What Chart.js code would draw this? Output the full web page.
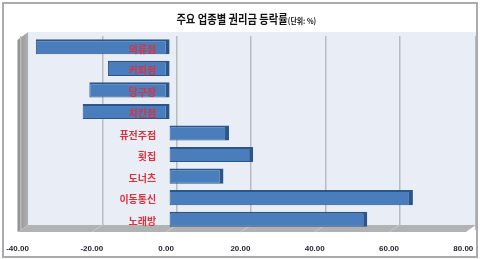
<!DOCTYPE html>
<html><head><meta charset="utf-8">
<script src="https://cdn.jsdelivr.net/npm/chart.js@4/dist/chart.umd.min.js"></script>
<style>
html,body{margin:0;padding:0;background:#fff;}
#wrap{position:relative;width:480px;height:259px;overflow:hidden;}
#frame{position:absolute;left:2px;top:2px;width:476px;height:256px;box-sizing:border-box;border:2px solid #ababab;pointer-events:none;}
#title{position:absolute;left:0;top:5px;width:480px;text-align:center;font-family:"Noto Sans CJK KR","Noto Sans",sans-serif;font-weight:bold;color:#111;white-space:nowrap;}
#title .in{display:inline-block;transform:scaleX(0.86);transform-origin:center;margin-left:12px;}
#title .m{font-size:12px;}
#title .s{font-size:8px;}
</style></head>
<body><div id="wrap"><canvas id="c" width="480" height="259"></canvas><div id="frame"></div>
<div id="title"><span class="in"><span class="m">주요 업종별 권리금 등락률</span><span class="s">(단위: %)</span></span></div></div>
<script>
const categories = ['의류점','커피점','당구장','치킨점','퓨전주점','횟집','도너츠','이동통신','노래방'];
const values = [-36.0, -16.6, -21.6, -23.4, 16.0, 22.5, 14.5, 65.5, 53.2];
const tickValues = [-40, -20, 0, 20, 40, 60, 80];

const decor = {
  id: 'decor',
  beforeDraw(chart) {
    const {ctx, chartArea} = chart;
    const x = chart.scales.x, x2 = chart.scales.x2;
    const bl = x2.getPixelForValue(-40), br = chartArea.right;
    const fl = x.getPixelForValue(-40) - 3.5;
    const top = chartArea.top - 4, fb = 225, ff = 232;
    ctx.save();
    ctx.fillStyle = '#e9eef6';
    ctx.fillRect(bl, top, br - bl, fb - top);
    const g = ctx.createLinearGradient(fl, 0, bl, 0);
    g.addColorStop(0, '#8f8f8f'); g.addColorStop(1, '#b0b0b0');
    ctx.fillStyle = g;
    ctx.beginPath();
    ctx.moveTo(fl, top + 8); ctx.lineTo(bl, top); ctx.lineTo(bl, fb); ctx.lineTo(fl, ff);
    ctx.closePath(); ctx.fill();
    ctx.restore();
  },
  beforeDatasetsDraw(chart) {
    const {ctx, chartArea} = chart;
    const x = chart.scales.x, x2 = chart.scales.x2;
    const bl = x2.getPixelForValue(-40), br = chartArea.right;
    const fl = x.getPixelForValue(-40) - 3.5, fr = x.getPixelForValue(80) - 1;
    const fb = 225, ff = 232;
    ctx.save();
    ctx.fillStyle = '#b1b2b4';
    ctx.beginPath();
    ctx.moveTo(bl, fb); ctx.lineTo(br, fb); ctx.lineTo(fr, ff); ctx.lineTo(fl, ff);
    ctx.closePath(); ctx.fill();
    ctx.strokeStyle = '#c9cacc'; ctx.lineWidth = 1;
    tickValues.slice(1, -1).forEach(v => {
      ctx.beginPath();
      ctx.moveTo(x2.getPixelForValue(v), fb);
      ctx.lineTo(x.getPixelForValue(v) - 3.5, ff);
      ctx.stroke();
    });
    ctx.restore();
  }
};

new Chart(document.getElementById('c'), {
  type: 'bar',
  data: {
    labels: categories,
    datasets: [{
      data: values,
      backgroundColor: '#4a7dbb',
      borderColor: '#2c568a',
      borderWidth: {top: 2, right: 4, bottom: 1, left: 1},
      borderSkipped: false,
      barPercentage: 0.7,
      categoryPercentage: 1.0
    }]
  },
  options: {
    indexAxis: 'y',
    responsive: false,
    animation: false,
    layout: {padding: {left: 21, right: 4, top: 36, bottom: 4}},
    plugins: {legend: {display: false}, tooltip: {enabled: false}, title: {display: false}},
    scales: {
      x: {
        type: 'linear', position: 'bottom', min: -40, max: 82.48,
        grid: {display: false, drawTicks: false},
        border: {display: false},
        afterFit: s => { s.height = 25; s.paddingLeft = 0; s.paddingRight = 0; },
        ticks: {
          stepSize: 20, includeBounds: false, padding: 14, labelOffset: -3.5, maxRotation: 0,
          color: '#1f1f2b', font: {family: 'Liberation Sans', size: 8, weight: 'bold'},
          callback: v => Number(v).toFixed(2)
        }
      },
      x2: {
        type: 'linear', position: 'bottom', min: -41.91, max: 80.57,
        grid: {display: true, drawTicks: false, color: '#b9bbbe', lineWidth: 1.5},
        border: {display: false},
        afterFit: s => { s.height = 0; s.paddingLeft = 0; s.paddingRight = 0; },
        ticks: {display: false, stepSize: 20}
      },
      y: {
        type: 'category', position: {x: -3.6},
        grid: {display: false, drawTicks: false},
        border: {display: false},
        afterFit: s => { s.width = 0; },
        ticks: {
          z: 1, padding: 0, labelOffset: 2, color: '#e0303a',
          font: {family: 'Noto Sans CJK KR', size: 10, weight: 'bold'}
        }
      }
    }
  },
  plugins: [decor]
});
</script></body></html>
